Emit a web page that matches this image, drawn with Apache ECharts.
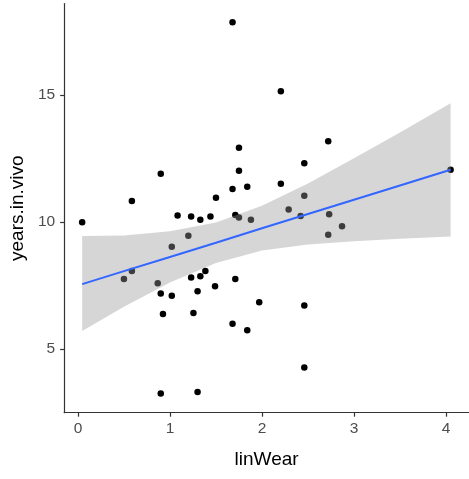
<!DOCTYPE html>
<html>
<head>
<meta charset="utf-8">
<script src="https://cdn.jsdelivr.net/npm/echarts@6/dist/echarts.min.js"></script>
<style>
  html, body { margin: 0; padding: 0; background: #ffffff; }
  #chart { width: 469px; height: 479px; }
</style>
</head>
<body>
<div id="chart"></div>
<script>
// Observations: wear measure vs. years in vivo
const linWear = [1.68, 1.75, 0.90, 1.75, 1.84, 1.68, 0.586, 1.50, 2.205, 2.72,
  2.46, 2.205, 2.46, 2.29, 4.05, 0.046, 1.083, 1.23, 1.33, 1.44,
  1.71, 1.75, 1.88, 1.20, 1.02, 0.586, 0.50, 0.867, 0.90, 1.02,
  1.23, 1.33, 1.385, 1.30, 1.49, 1.71, 1.97, 0.924, 1.255, 1.68,
  1.84, 0.90, 1.30, 2.42, 2.73, 2.87, 2.72, 2.46, 2.46];
const yearsInVivo = [17.87, 12.93, 11.90, 12.02, 11.39, 11.30, 10.83, 10.96, 15.15, 13.18,
  12.32, 11.51, 11.04, 10.50, 12.06, 10.00, 10.26, 10.22, 10.09, 10.22,
  10.28, 10.18, 10.09, 9.46, 9.03, 8.08, 7.76, 7.59, 7.19, 7.10,
  7.82, 7.87, 8.08, 7.28, 7.48, 7.76, 6.85, 6.38, 6.42, 6.00,
  5.74, 3.26, 3.31, 10.24, 10.31, 9.84, 9.50, 6.72, 4.28];

// Linear fit and its confidence ribbon
const fitX = [0.046, 0.5, 1.0, 1.5, 2.0, 2.5, 3.0, 3.5, 4.05];
const fitY = [7.56, 8.07, 8.63, 9.19, 9.76, 10.32, 10.88, 11.44, 12.06];
const bandLower = [5.72, 6.67, 7.62, 8.39, 8.88, 9.12, 9.25, 9.35, 9.43];
const bandUpper = [9.45, 9.47, 9.64, 9.99, 10.64, 11.52, 12.51, 13.53, 14.68];

// Axis ticks
const xTicks = [0, 1, 2, 3, 4];
const yTicks = [5, 10, 15];

const points = linWear.map((x, i) => [x, yearsInVivo[i]]);
const bandData = fitX.map((x, i) => [x, bandLower[i], bandUpper[i]]);
const lineData = fitX.map((x, i) => [x, fitY[i]]);

const font = '"Liberation Sans", Arial, sans-serif';
const axisLineStyle = { color: '#333333', width: 1.2 };

// Ribbon polygon: upper edge left to right, then lower edge back
function renderBand(params, api) {
  if (params.dataIndex !== 0) return null;
  const upper = bandData.map(d => api.coord([d[0], d[2]]));
  const lower = bandData.map(d => api.coord([d[0], d[1]])).reverse();
  return {
    type: 'polygon',
    shape: { points: upper.concat(lower) },
    style: { fill: 'rgba(153,153,153,0.4)' }
  };
}

const chart = echarts.init(document.getElementById('chart'), null, { renderer: 'canvas' });
chart.setOption({
  animation: false,
  backgroundColor: '#ffffff',
  grid: { left: 64, top: 3.6, width: 407.7, bottom: 66.3, containLabel: false },
  xAxis: {
    type: 'value', min: -0.15, max: 4.25,
    name: 'linWear', nameLocation: 'middle', nameGap: 38,
    nameTextStyle: { color: '#000000', fontSize: 19, fontFamily: font },
    axisLine: { show: true, onZero: false, lineStyle: axisLineStyle },
    axisTick: { show: true, length: 4, lineStyle: axisLineStyle, customValues: xTicks },
    axisLabel: { color: '#4d4d4d', fontSize: 15.5, fontFamily: font, margin: 8, customValues: xTicks },
    splitLine: { show: false }
  },
  yAxis: {
    type: 'value', min: 2.5, max: 18.6,
    name: 'years.in.vivo', nameLocation: 'middle', nameGap: 36,
    nameTextStyle: { color: '#000000', fontSize: 19, fontFamily: font },
    axisLine: { show: true, onZero: false, lineStyle: axisLineStyle },
    axisTick: { show: true, length: 4, lineStyle: axisLineStyle, customValues: yTicks },
    axisLabel: { color: '#4d4d4d', fontSize: 15.5, fontFamily: font, margin: 9, customValues: yTicks },
    splitLine: { show: false }
  },
  series: [
    {
      type: 'scatter', data: points, symbol: 'circle', symbolSize: 6.5,
      itemStyle: { color: '#000000', opacity: 1 }, z: 1, silent: true
    },
    {
      type: 'custom', data: bandData, renderItem: renderBand,
      encode: { x: 0, y: [1, 2] }, z: 2, silent: true, clip: true
    },
    {
      type: 'line', data: lineData, symbol: 'none',
      lineStyle: { color: '#3366FF', width: 2 }, z: 3, silent: true
    }
  ]
});
</script>
</body>
</html>
